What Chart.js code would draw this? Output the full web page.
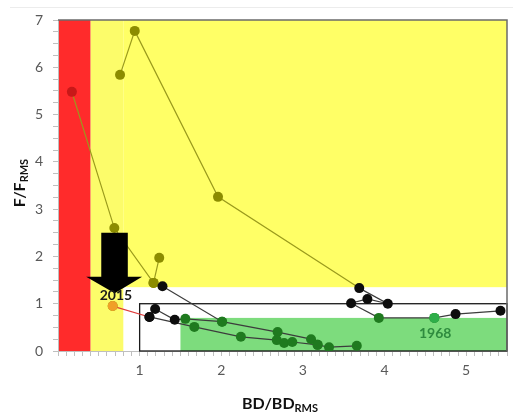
<!DOCTYPE html>
<html>
<head>
<meta charset="utf-8">
<script src="https://cdn.jsdelivr.net/npm/chart.js@4/dist/chart.umd.min.js"></script>
<style>
  html, body { margin: 0; padding: 0; background: #ffffff; }
  #wrap { width: 513px; height: 419px; }
</style>
</head>
<body>
<div id="wrap"><canvas id="kobeChart" width="513" height="419"></canvas></div>
<script>
// axis ranges
const xMax = 5.5;
const yMax = 7;

// stock trajectory, null breaks the line between tracks
const bdRatio = [
  5.42, 4.87, 4.61, 3.93, 3.59, 3.79, 4.04, 3.69, 1.96, 0.94, 0.76, null,
  0.17, 0.69, 1.17, 1.24, null,
  1.17, 1.28, 2.01, 2.69, 3.10, 3.18, 3.32, 3.66, null,
  0.67, 1.12, 1.67, 2.24, 2.68, 2.77, 2.87, 3.18, null,
  1.12, 1.19, 1.43, 1.56, 2.01
];
const fRatio = [
  0.85, 0.78, 0.70, 0.70, 1.01, 1.10, 1.00, 1.33, 3.26, 6.77, 5.84, null,
  5.48, 2.60, 1.44, 1.97, null,
  1.44, 1.37, 0.62, 0.40, 0.25, 0.13, 0.08, 0.11, null,
  0.95, 0.72, 0.51, 0.30, 0.23, 0.17, 0.19, 0.13, null,
  0.72, 0.89, 0.66, 0.68, 0.62
];

// labelled years
const markedYears = ["1968", "2015"];
const markedX = [4.61, 0.67];
const markedY = [0.70, 0.95];

// zone limits
const redLimit = 0.4;
const bandLimit = 0.8;
const yellowFloor = 1.35;
const greenLeft = 1.5;
const greenTop = 0.7;

function zoneColor(p) {
  if (!p || p.x === null) return "#000";
  if (p.x < redLimit) return "#c81818";
  if (p.y >= 1.4 || p.x < bandLimit) return "#8c8c00";
  if (p.x >= greenLeft && p.y <= greenTop + 0.005) return "#1f7a1f";
  return "#0d0d0d";
}

function segColor(ctx) {
  const a = ctx.p0.parsed, b = ctx.p1.parsed;
  if ((a.x === markedX[1] && a.y === markedY[1]) || (b.x === markedX[1] && b.y === markedY[1])) {
    return "#e03a3a";
  }
  const mx = (a.x + b.x) / 2, my = (a.y + b.y) / 2;
  if (my > yellowFloor || mx < bandLimit) return "#9a9a1c";
  return "#3c3c3c";
}

const pathPoints = bdRatio.map((x, i) => ({ x: x, y: fRatio[i] }));
const yearPoints = markedX.map((x, i) => ({ x: x, y: markedY[i] }));

const zonesPlugin = {
  id: "zones",
  beforeDraw(chart) {
    const { ctx, scales: { x, y } } = chart;
    function rect(x0, x1, y0, y1, color) {
      const px0 = x.getPixelForValue(x0), px1 = x.getPixelForValue(x1);
      const py0 = y.getPixelForValue(y1), py1 = y.getPixelForValue(y0);
      ctx.fillStyle = color;
      ctx.fillRect(px0, py0, px1 - px0, py1 - py0);
    }
    ctx.save();
    // faint frame line above the chart
    ctx.strokeStyle = "#ececec";
    ctx.lineWidth = 1;
    ctx.beginPath();
    ctx.moveTo(10, 7.5);
    ctx.lineTo(513, 7.5);
    ctx.stroke();

    rect(0, redLimit, 0, yMax, "#ff2b2b");
    rect(redLimit, bandLimit, 0, yMax, "#fcfc6a");
    rect(bandLimit, xMax, yellowFloor, yMax, "#ffff66");
    rect(greenLeft, xMax, 0, greenTop, "#7ddc7d");
    ctx.restore();
  },
  beforeDatasetsDraw(chart) {
    const { ctx, scales: { x, y } } = chart;
    ctx.save();
    ctx.strokeStyle = "#1a1a1a";
    ctx.lineWidth = 1.3;
    const px0 = x.getPixelForValue(1), px1 = x.getPixelForValue(xMax);
    const py0 = y.getPixelForValue(1), py1 = y.getPixelForValue(0);
    ctx.strokeRect(px0, py0, px1 - px0, py1 - py0);
    ctx.restore();
  },
  afterDatasetsDraw(chart) {
    const { ctx, scales: { x, y } } = chart;
    ctx.save();
    // big arrow pointing at 2015
    ctx.fillStyle = "#000";
    ctx.beginPath();
    ctx.moveTo(x.getPixelForValue(0.53), y.getPixelForValue(2.5));
    ctx.lineTo(x.getPixelForValue(0.855), y.getPixelForValue(2.5));
    ctx.lineTo(x.getPixelForValue(0.855), y.getPixelForValue(1.57));
    ctx.lineTo(x.getPixelForValue(1.03), y.getPixelForValue(1.57));
    ctx.lineTo(x.getPixelForValue(0.695), y.getPixelForValue(1.22));
    ctx.lineTo(x.getPixelForValue(0.345), y.getPixelForValue(1.57));
    ctx.lineTo(x.getPixelForValue(0.53), y.getPixelForValue(1.57));
    ctx.closePath();
    ctx.fill();

    ctx.font = "bold 14px Lato";
    ctx.textAlign = "center";
    ctx.textBaseline = "middle";
    ctx.fillStyle = "#1a1a1a";
    ctx.fillText(markedYears[1], x.getPixelForValue(0.71), y.getPixelForValue(1.18));
    ctx.fillStyle = "#2e8b3e";
    ctx.fillText(markedYears[0], x.getPixelForValue(4.62), y.getPixelForValue(0.36));
    ctx.restore();
  },
  afterDraw(chart) {
    const { ctx, chartArea: a } = chart;
    ctx.save();
    ctx.strokeStyle = "#6b6b6b";
    ctx.lineWidth = 1.5;
    ctx.beginPath();
    ctx.moveTo(a.left, a.top);
    ctx.lineTo(a.right, a.top);
    ctx.lineTo(a.right, a.bottom);
    ctx.stroke();

    // axis titles with subscripts
    drawSubTitle(ctx, "BD/BD", "RMS", 280, 403, 0);
    drawSubTitle(ctx, "F/F", "RMS", 19, 183, -Math.PI / 2);
    ctx.restore();
  }
};

function drawSubTitle(ctx, main, sub, cx, cy, angle) {
  ctx.save();
  ctx.translate(cx, cy);
  ctx.rotate(angle);
  ctx.fillStyle = "#111";
  ctx.textBaseline = "alphabetic";
  ctx.textAlign = "left";
  ctx.font = "bold 16px Lato";
  const w1 = ctx.measureText(main).width;
  ctx.font = "bold 11px Lato";
  const w2 = ctx.measureText(sub).width;
  const start = -(w1 + w2) / 2;
  ctx.font = "bold 16px Lato";
  ctx.fillText(main, start, 6);
  ctx.font = "bold 11px Lato";
  ctx.fillText(sub, start + w1, 9);
  ctx.restore();
}

function isWhole(v) {
  return Math.abs(v - Math.round(v)) < 1e-6;
}

new Chart(document.getElementById("kobeChart"), {
  type: "scatter",
  data: {
    datasets: [
      {
        data: yearPoints,
        order: 1,
        showLine: false,
        pointRadius: 5,
        pointHoverRadius: 5,
        pointBorderWidth: 0,
        pointBackgroundColor: ["#2fae4a", "#f0a028"]
      },
      {
        data: pathPoints,
        order: 2,
        showLine: true,
        spanGaps: false,
        borderWidth: 1.2,
        borderColor: "#3c3c3c",
        segment: { borderColor: segColor },
        pointRadius: 5,
        pointHoverRadius: 5,
        pointBorderWidth: 0,
        pointBackgroundColor: (c) => zoneColor(c.raw)
      }
    ]
  },
  options: {
    responsive: false,
    animation: false,
    devicePixelRatio: 1,
    layout: { padding: { top: 20, right: 1, left: 0, bottom: 0 } },
    plugins: {
      legend: { display: false },
      tooltip: { enabled: false },
      title: { display: false }
    },
    scales: {
      x: {
        type: "linear",
        min: 0,
        max: xMax,
        afterFit: (s) => { s.height = 68; },
        border: { display: true, color: "#bfbfbf" },
        grid: { drawOnChartArea: false, drawTicks: true, tickLength: 5, color: "#bfbfbf" },
        ticks: {
          stepSize: 0.1,
          autoSkip: false,
          maxTicksLimit: 200,
          maxRotation: 0,
          padding: 6,
          color: "#595959",
          font: { family: "Lato", size: 14 },
          callback: (v) => (isWhole(v) && v > 0.5 ? String(Math.round(v)) : "")
        }
      },
      y: {
        type: "linear",
        min: 0,
        max: yMax,
        afterFit: (s) => { s.width = 58; },
        border: { display: true, color: "#bfbfbf" },
        grid: { drawOnChartArea: false, drawTicks: true, tickLength: 5, color: "#bfbfbf" },
        ticks: {
          stepSize: 0.25,
          autoSkip: false,
          maxTicksLimit: 200,
          padding: 10,
          color: "#595959",
          font: { family: "Lato", size: 14 },
          callback: (v) => (isWhole(v) ? String(Math.round(v)) : "")
        }
      }
    }
  },
  plugins: [zonesPlugin]
});
</script>
</body>
</html>
